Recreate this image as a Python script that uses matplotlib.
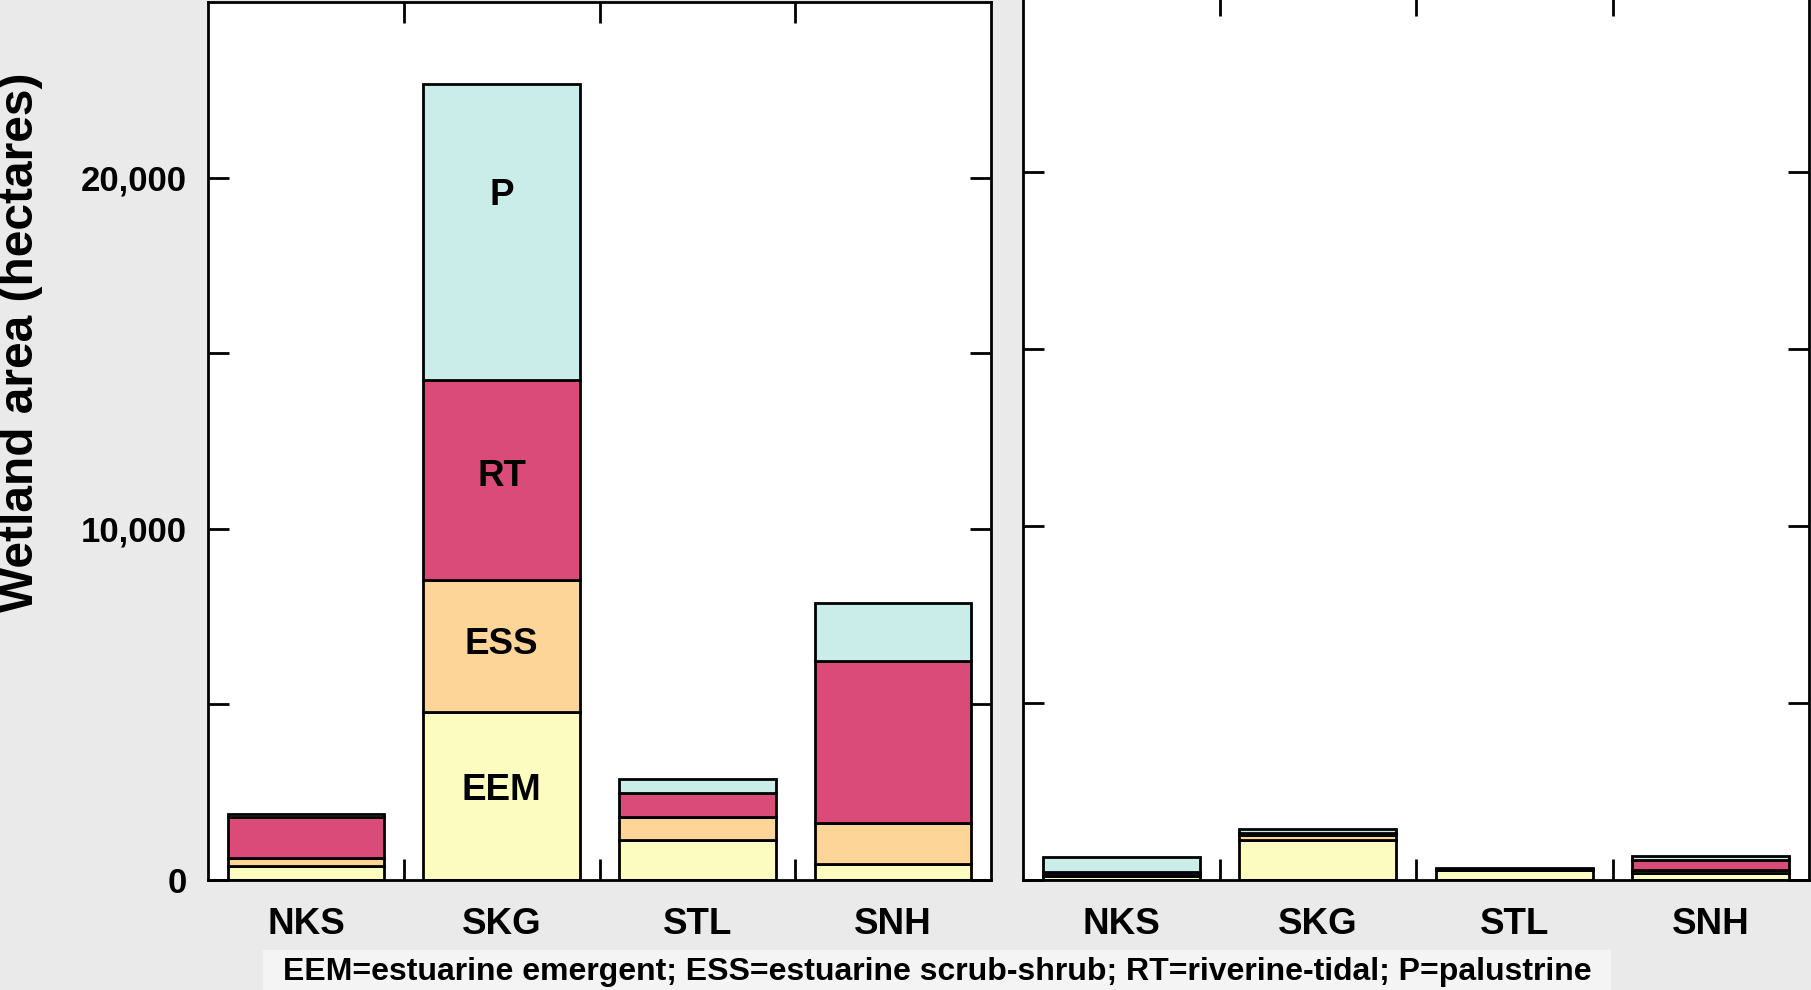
import matplotlib
matplotlib.use("Agg")
import matplotlib.pyplot as plt
from matplotlib.patches import Rectangle
from matplotlib.ticker import FixedLocator, FixedFormatter

plt.rcParams['font.family'] = ['Liberation Sans', 'DejaVu Sans']
plt.rcParams['font.weight'] = 'bold'

# data (hectares)
sites = ['NKS', 'SKG', 'STL', 'SNH']
classes = ['EEM', 'ESS', 'RT', 'P']
colors = ['#fdfcc0', '#fdd598', '#db4b7a', '#cbedea']

left_eem = [390, 4790, 1150, 450]
left_ess = [225, 3740, 630, 1160]
left_rt = [1175, 5700, 690, 4620]
left_p = [85, 8430, 420, 1670]

right_eem = [120, 1140, 280, 190]
right_ess = [30, 120, 15, 80]
right_rt = [90, 80, 15, 300]
right_p = [415, 100, 40, 110]

seg_labels = {'P': 19500, 'RT': 11500, 'ESS': 6700, 'EEM': 2550}
note = "EEM=estuarine emergent; ESS=estuarine scrub-shrub; RT=riverine-tidal; P=palustrine"

fig = plt.figure(figsize=(18.11, 9.9), dpi=100)
fig.patch.set_facecolor('#eaeaea')

# lighter box behind the footnote
fig.patches.append(Rectangle((263 / 1811, 0), (1611 - 263) / 1811, 40 / 990,
                             transform=fig.transFigure, facecolor='#f4f4f4',
                             edgecolor='none', zorder=0))

ax1 = fig.add_axes([208 / 1811, 110 / 990, 783 / 1811, 878 / 990])
ax2 = fig.add_axes([1023 / 1811, 110 / 990, 786 / 1811, 885 / 990])


def stacked(ax, series):
    bottom = [0] * len(sites)
    for vals, col in zip(series, colors):
        ax.bar(range(len(sites)), vals, width=0.8, bottom=bottom, color=col,
               edgecolor='black', linewidth=2.0, zorder=2)
        bottom = [b + v for b, v in zip(bottom, vals)]


stacked(ax1, [left_eem, left_ess, left_rt, left_p])
stacked(ax2, [right_eem, right_ess, right_rt, right_p])

for ax in (ax1, ax2):
    ax.set_facecolor('white')
    ax.set_xlim(-0.5, 3.5)
    ax.set_ylim(0, 25000)
    for s in ax.spines.values():
        s.set_linewidth(2.0)
    # boundary ticks between categories
    ax.xaxis.set_major_locator(FixedLocator([0.5, 1.5, 2.5]))
    ax.xaxis.set_major_formatter(FixedFormatter(['', '', '']))
    ax.xaxis.set_minor_locator(FixedLocator([0, 1, 2, 3]))
    ax.xaxis.set_minor_formatter(FixedFormatter(sites))
    ax.tick_params(axis='x', which='major', direction='in', top=True,
                   bottom=True, length=15, width=2.0)
    ax.tick_params(axis='x', which='minor', length=0, pad=19.5, labelsize=26.5)
    ax.set_yticks([0, 5000, 10000, 15000, 20000])
    ax.tick_params(axis='y', direction='in', left=True, right=True,
                   length=15, width=2.0, labelsize=25, pad=15)

ax1.set_yticklabels(['0', '', '10,000', '', '20,000'])
ax2.set_yticklabels([])

for name, y in seg_labels.items():
    ax1.text(1, y, name, ha='center', va='center', fontsize=26.5,
             fontweight='bold', zorder=3)

fig.text(21 / 1811, 1 - 342 / 990, 'Wetland area (hectares)', rotation=90,
         ha='center', va='center', fontsize=34.5, fontweight='bold')
fig.text(937 / 1811, 1 - 972 / 990, note, ha='center', va='center',
         fontsize=23, fontweight='bold')

fig.savefig('out.png', dpi=100, facecolor=fig.get_facecolor())
